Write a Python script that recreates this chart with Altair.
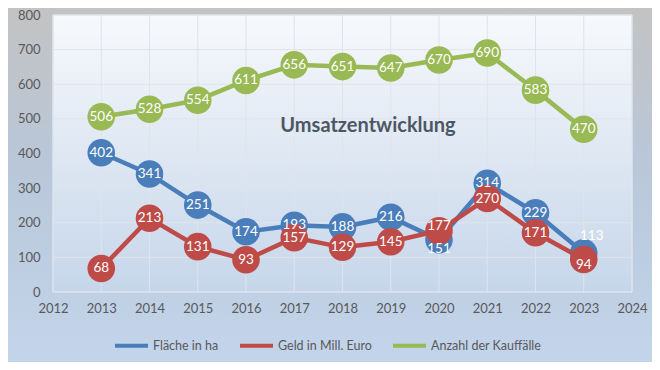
import altair as alt
import pandas as pd

# ---- data ----
years = list(range(2013, 2024))
flaeche = [402, 341, 251, 174, 193, 188, 216, 151, 314, 229, 113]
geld = [68, 213, 131, 93, 157, 129, 145, 177, 270, 171, 94]
anzahl = [506, 528, 554, 611, 656, 651, 647, 670, 690, 583, 470]
series_names = ["Fläche in ha", "Geld in Mill. Euro", "Anzahl der Kauffälle"]
series_colors = ["#4a7ebb", "#be4b48", "#98b954"]
x_ticks = list(range(2012, 2025))
y_ticks = list(range(0, 801, 100))
title_text = "Umsatzentwicklung"

# label nudges (Excel moved overlapping labels)
label_nudges = [
    (2023, "Fläche in ha", 8, -17),
    (2023, "Geld in Mill. Euro", 0, 6),
    (2020, "Fläche in ha", 0, 9),
    (2020, "Geld in Mill. Euro", 0, -5),
]

rows = []
for name, vals in zip(series_names, [flaeche, geld, anzahl]):
    for yr, v in zip(years, vals):
        rows.append({"Jahr": yr, "Reihe": name, "Wert": v})
df = pd.DataFrame(rows)

W, H = 579, 277
PL, PT, PR, PB = 45, 7, 20, 70
FONT = "Lato"

xscale = alt.Scale(domain=[2012, 2024], nice=False, zero=False)
yscale = alt.Scale(domain=[0, 800], nice=False)
cscale = alt.Scale(domain=series_names, range=series_colors)

xaxis = alt.Axis(title=None, values=x_ticks, format="d", domain=False, ticks=False, grid=False,
                 labelFont=FONT, labelFontSize=13, labelColor="#595959", labelPadding=10,
                 zindex=1, labelFlush=False)
yaxis = alt.Axis(title=None, values=y_ticks, domain=False, ticks=False, grid=False,
                 labelFont=FONT, labelFontSize=13, labelColor="#595959", labelPadding=13,
                 zindex=1)
legend = alt.Legend(title=None, orient="none", legendX=60, legendY=312, direction="horizontal",
                    symbolType="stroke", symbolSize=1089, symbolStrokeWidth=4,
                    labelFont=FONT, labelFontSize=12.5, labelColor="#595959",
                    columnPadding=13, labelOffset=3, padding=0)

one = alt.Data(values=[{"a": 1}])

outer_bg = alt.Chart(one).mark_rect(
    color=alt.Gradient(gradient="linear", x1=0, x2=0, y1=0, y2=1,
                       stops=[alt.GradientStop(color="#c3c3c3", offset=0),
                              alt.GradientStop(color="#b9c7d9", offset=0.45),
                              alt.GradientStop(color="#c3d5eb", offset=1)])
).encode(x=alt.value(-PL), x2=alt.value(W + PR), y=alt.value(-PT), y2=alt.value(H + PB))

plot_bg = alt.Chart(one).mark_rect(
    color=alt.Gradient(gradient="linear", x1=0, x2=0, y1=0, y2=1,
                       stops=[alt.GradientStop(color="#f7f9fc", offset=0),
                              alt.GradientStop(color="#c6d6ea", offset=1)]),
    stroke="#dde6f1", strokeWidth=1
).encode(x=alt.value(0), x2=alt.value(W), y=alt.value(0), y2=alt.value(H))

vgrid = alt.Chart(alt.Data(values=[{"t": t} for t in x_ticks])).mark_rule(
    color="#dfe4ea", strokeWidth=1
).encode(x=alt.X("t:Q", scale=xscale, axis=xaxis), y=alt.value(0), y2=alt.value(H))

hgrid = alt.Chart(alt.Data(values=[{"t": t} for t in y_ticks])).mark_rule(
    color="#dfe4ea", strokeWidth=1
).encode(y=alt.Y("t:Q", scale=yscale, axis=yaxis), x=alt.value(0), x2=alt.value(W))

base = alt.Chart(df).encode(
    x=alt.X("Jahr:Q", scale=xscale, axis=xaxis),
    y=alt.Y("Wert:Q", scale=yscale, axis=yaxis),
    color=alt.Color("Reihe:N", scale=cscale, legend=legend),
)

layers = [outer_bg, plot_bg, vgrid, hgrid]
for name in series_names:
    sub = base.transform_filter(alt.datum.Reihe == name)
    layers.append(sub.mark_line(strokeWidth=4.5))
    layers.append(sub.mark_circle(size=760, opacity=1))

nudge_expr = " || ".join(
    f"(datum.Jahr == {yr} && datum.Reihe == '{nm}')" for yr, nm, _, _ in label_nudges)
txt = alt.Chart(df).encode(
    x=alt.X("Jahr:Q", scale=xscale, axis=xaxis),
    y=alt.Y("Wert:Q", scale=yscale, axis=yaxis),
    text=alt.Text("Wert:Q"),
)
layers.append(txt.transform_filter(f"!({nudge_expr})").mark_text(
    font=FONT, fontSize=13.5, color="white", baseline="middle", align="center"))
for yr, nm, dx, dy in label_nudges:
    layers.append(txt.transform_filter(
        f"datum.Jahr == {yr} && datum.Reihe == '{nm}'").mark_text(
        font=FONT, fontSize=13.5, color="white", baseline="middle", align="center", dx=dx, dy=dy))

title = alt.Chart(one).mark_text(
    font=FONT, fontSize=20, fontWeight="bold", color="#4d5763", baseline="middle", align="center"
).encode(x=alt.value(315), y=alt.value(111), text=alt.value(title_text))
layers.append(title)

chart = alt.layer(*layers).properties(
    width=W, height=H,
    autosize=alt.AutoSizeParams(type="none"),
    padding={"left": PL, "top": PT, "right": PR, "bottom": PB},
).configure(background="#c3d5eb").configure_view(stroke=None)

chart.save("out.html", embed_options={"renderer": "svg", "actions": False})
